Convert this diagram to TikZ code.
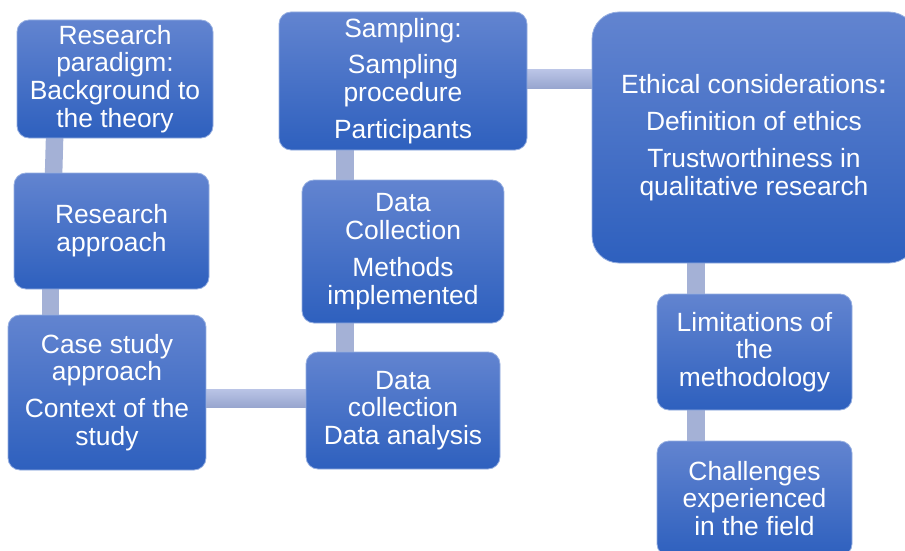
\documentclass[tikz,border=0pt]{standalone}
\usepackage{fontspec}
\setmainfont{Liberation Sans}
\usetikzlibrary{calc,backgrounds}
\definecolor{boxtop}{RGB}{98,132,208}
\definecolor{boxbot}{RGB}{46,96,190}
\definecolor{boxline}{RGB}{150,175,225}
\definecolor{connc}{RGB}{164,177,214}
\definecolor{conntop}{RGB}{186,196,230}
\definecolor{connbot}{RGB}{152,166,207}
\tikzset{
  box/.style={rectangle, rounded corners=12pt, draw=boxline, line width=0.8pt,
    top color=boxtop, bottom color=boxbot, text=white, align=center, inner sep=0pt,
    font=\fontsize{26.4}{27.8}\selectfont},
  vconn/.style={draw=connc, line width=17.5pt},
  hconn/.style={top color=conntop, bottom color=connbot, draw=none}
}
\begin{document}
\begin{tikzpicture}[x=1pt,y=-1pt]
\useasboundingbox (0,0) rectangle (905,551);
\clip (0,0) rectangle (905,551);
\node[box, minimum width=196, minimum height=118] (a) at (115,79)
  {Research\\paradigm:\\Background to\\the theory};
\node[box, minimum width=195, minimum height=116] (b) at (111.5,231)
  {Research\\approach};
\node[box, minimum width=198, minimum height=155] (c) at (107,392.5)
  {Case study\\approach\\[9pt]Context of the\\study};
\node[box, minimum width=194, minimum height=117] (d) at (403,410.5)
  {Data\\collection\\Data analysis};
\node[box, minimum width=202, minimum height=143] (e) at (403,251.5)
  {Data\\Collection\\[9pt]Methods\\implemented};
\node[box, minimum width=248, minimum height=138] (f) at (403,81)
  {Sampling:\\[9pt]Sampling\\procedure\\[9pt]Participants};
\node[box, rounded corners=27pt, minimum width=324, minimum height=251] (g) at (754,137.5)
  {Ethical considerations\textbf{:}\\[9pt]Definition of ethics\\[9pt]Trustworthiness in\\qualitative research};
\node[box, minimum width=195, minimum height=116] (h) at (754.5,352)
  {Limitations of\\the\\methodology};
\node[box, minimum width=195, minimum height=115] (i) at (754.5,498.5)
  {Challenges\\experienced\\in the field};
\begin{scope}[on background layer]
  \fill[white] (0,0) rectangle (905,551);
  \draw[vconn] ($(a.south west)+(38,-1)$) -- ($(b.north west)+(40,1)$);
  \draw[vconn] ($(b.south west)+(37,-1)$) -- ($(c.north west)+(43,1)$);
  \fill[hconn] ($(c.east)+(-2,-3.5)$) rectangle ($(d.west)+(2,-3.5)$);
  \draw[vconn] ($(d.north)+(-58,1)$) -- ($(e.south)+(-58,-1)$);
  \draw[vconn] ($(e.north)+(-58,1)$) -- ($(f.south)+(-58,-1)$);
  \fill[hconn] ($(f.east)+(-2,-11)$) rectangle ($(g.west)+(2,-49.5)$);
  \draw[vconn] ($(g.south)+(-58,-1)$) -- ($(h.north)+(-58.5,1)$);
  \draw[vconn] ($(h.south)+(-58.5,-1)$) -- ($(i.north)+(-58.5,1)$);
\end{scope}
\end{tikzpicture}
\end{document}
